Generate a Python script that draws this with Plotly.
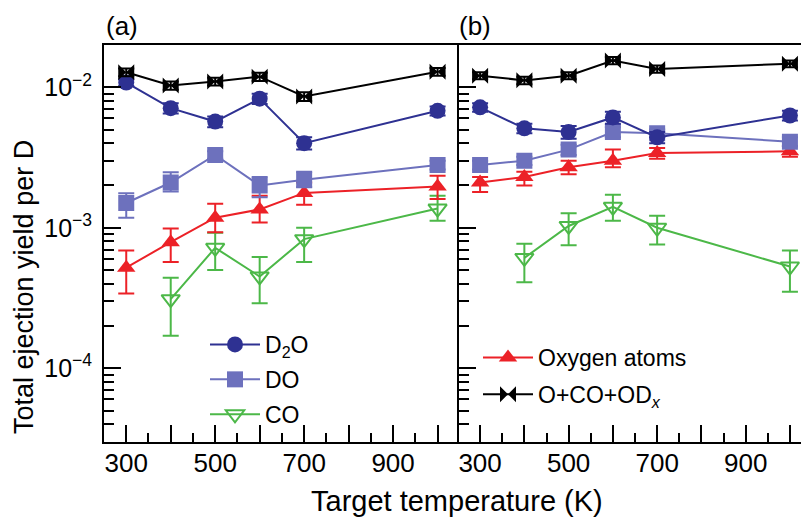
import plotly.graph_objects as go

W, H = 801, 517

# ---- data -------------------------------------------------------------
temps = [300, 400, 500, 600, 700, 1000]
temps_co = [400, 500, 600, 700, 1000]

# panel (a)
total_a = [0.0128, 0.0103, 0.0110, 0.0119, 0.0086, 0.0129]
total_a_up = [0.0008, 0.0007, 0.0007, 0.0008, 0.0006, 0.0008]
total_a_dn = [0.0008, 0.0007, 0.0007, 0.0008, 0.0006, 0.0008]
d2o_a = [0.0108, 0.0071, 0.0057, 0.0083, 0.0040, 0.0068]
d2o_a_up = [0.0006, 0.0006, 0.0005, 0.0007, 0.0004, 0.0005]
d2o_a_dn = [0.0006, 0.0006, 0.0005, 0.0007, 0.0004, 0.0005]
do_a = [0.0015, 0.0021, 0.0033, 0.0020, 0.0022, 0.0028]
do_a_up = [0.00026, 0.00038, 0.0002, 0.0003, 0.0003, 0.0002]
do_a_dn = [0.00032, 0.00029, 0.0002, 0.00035, 0.00026, 0.0002]
o_a = [0.00052, 0.00079, 0.00118, 0.00135, 0.00177, 0.00197]
o_a_up = [0.00017, 0.00020, 0.00030, 0.00034, 0.00033, 0.00038]
o_a_dn = [0.00018, 0.00022, 0.00025, 0.00026, 0.00031, 0.00037]
co_a = [0.00031, 0.00072, 0.00045, 0.00083, 0.00137]
co_a_up = [0.00013, 0.00020, 0.00017, 0.00017, 0.00032]
co_a_dn = [0.00014, 0.00022, 0.00016, 0.00026, 0.00025]

# panel (b)
total_b = [0.0121, 0.0112, 0.0121, 0.0155, 0.0135, 0.0147]
total_b_up = [0.0007, 0.0007, 0.0007, 0.0009, 0.0008, 0.0008]
total_b_dn = [0.0007, 0.0007, 0.0007, 0.0009, 0.0008, 0.0008]
d2o_b = [0.0072, 0.0051, 0.0048, 0.0061, 0.0044, 0.0063]
d2o_b_up = [0.0005, 0.0004, 0.0005, 0.0006, 0.0004, 0.0005]
d2o_b_dn = [0.0005, 0.0004, 0.0005, 0.0006, 0.0004, 0.0005]
do_b = [0.0028, 0.0030, 0.0036, 0.0048, 0.0047, 0.0041]
do_b_up = [0.0002, 0.0002, 0.0003, 0.0004, 0.0003, 0.0003]
do_b_dn = [0.0002, 0.0002, 0.0003, 0.0004, 0.0003, 0.0003]
o_b = [0.0021, 0.0023, 0.0027, 0.0030, 0.0034, 0.0035]
o_b_up = [0.0002, 0.0002, 0.0003, 0.0006, 0.0003, 0.0003]
o_b_dn = [0.0003, 0.0003, 0.0003, 0.0003, 0.0003, 0.0003]
co_b = [0.00061, 0.00103, 0.00141, 0.00100, 0.00053]
co_b_up = [0.00016, 0.00024, 0.00031, 0.00022, 0.00016]
co_b_dn = [0.00020, 0.00028, 0.00029, 0.00024, 0.00018]

y_ticks = [1e-4, 1e-3, 1e-2]
y_ticktext = ["10<sup>\u22124</sup>", "10<sup>\u22123</sup>", "10<sup>\u22122</sup>"]
x_ticks = [300, 400, 500, 600, 700, 800, 900, 1000]
x_ticktext = ["300", "", "500", "", "700", "", "900", ""]
x_minor = [350, 450, 550, 650, 750, 850, 950]

# ---- styles -----------------------------------------------------------
C_D2O = "#2e3192"
C_DO = "#6d71bd"
C_CO = "#4cb848"
C_O = "#ec2127"
C_TOT = "#000000"
FONT = "Liberation Sans, Arial, sans-serif"


def px_x(x):
    return x / W


def px_y(y):
    return 1 - y / H


def series(x, y, up, dn, color, symbol, size, name, xa, ya, legend, show, rank,
           open_marker=False):
    marker = dict(symbol=symbol, size=size, color=color,
                  line=dict(color=color, width=2 if open_marker else 0))
    return go.Scatter(
        x=x, y=y, mode="lines+markers", name=name,
        xaxis=xa, yaxis=ya, legend=legend, legendgroup=name + legend,
        legendrank=rank, showlegend=show,
        line=dict(color=color, width=2),
        marker=marker,
        error_y=dict(type="data", symmetric=False, array=up, arrayminus=dn,
                     color=color, thickness=2, width=8),
    )


fig = go.Figure()

# panel (a)
fig.add_trace(series(temps_co, co_a, co_a_up, co_a_dn, C_CO, "triangle-down-open", 16,
                     "CO", "x", "y", "legend", True, 3, open_marker=True))
fig.add_trace(series(temps, o_a, o_a_up, o_a_dn, C_O, "triangle-up", 16,
                     "Oxygen atoms", "x", "y", "legend2", False, 1))
fig.add_trace(series(temps, do_a, do_a_up, do_a_dn, C_DO, "square", 16,
                     "DO", "x", "y", "legend", True, 2))
fig.add_trace(series(temps, d2o_a, d2o_a_up, d2o_a_dn, C_D2O, "circle", 16,
                     "D<sub>2</sub>O", "x", "y", "legend", True, 1))
fig.add_trace(series(temps, total_a, total_a_up, total_a_dn, C_TOT, "bowtie", 16,
                     "O+CO+OD<sub><i>x</i></sub>", "x", "y", "legend2", False, 2))

# panel (b)
fig.add_trace(series(temps_co, co_b, co_b_up, co_b_dn, C_CO, "triangle-down-open", 16,
                     "CO", "x2", "y2", "legend", False, 3, open_marker=True))
fig.add_trace(series(temps, o_b, o_b_up, o_b_dn, C_O, "triangle-up", 16,
                     "Oxygen atoms", "x2", "y2", "legend2", True, 1))
fig.add_trace(series(temps, do_b, do_b_up, do_b_dn, C_DO, "square", 16,
                     "DO", "x2", "y2", "legend", False, 2))
fig.add_trace(series(temps, d2o_b, d2o_b_up, d2o_b_dn, C_D2O, "circle", 16,
                     "D<sub>2</sub>O", "x2", "y2", "legend", False, 1))
fig.add_trace(series(temps, total_b, total_b_up, total_b_dn, C_TOT, "bowtie", 16,
                     "O+CO+OD<sub><i>x</i></sub>", "x2", "y2", "legend2", True, 2))

y_dom = [px_y(441.7), px_y(45)]
y_range = [-4.5229, -1.699]

common_x = dict(
    tickmode="array", tickvals=x_ticks, ticktext=x_ticktext,
    ticks="inside", ticklen=17, tickwidth=1.5, tickcolor="black",
    minor=dict(tickmode="array", tickvals=x_minor, ticks="inside",
               ticklen=9, tickwidth=1.5, tickcolor="black"),
    showline=True, linecolor="black", linewidth=2, mirror=True,
    showgrid=False, zeroline=False,
    tickfont=dict(family=FONT, size=26, color="black"),
    ticklabelstandoff=-3,
)
common_y = dict(
    type="log", range=y_range, domain=y_dom,
    tickmode="array", tickvals=y_ticks,
    ticks="inside", ticklen=17, tickwidth=1.5, tickcolor="black",
    minor=dict(tickmode="array",
               tickvals=[m * 10.0 ** e for e in (-5, -4, -3, -2) for m in range(2, 10)],
               ticks="inside", ticklen=10, tickwidth=1.5, tickcolor="black"),
    showline=True, linecolor="black", linewidth=2,
    showgrid=False, zeroline=False,
    tickfont=dict(family=FONT, size=25, color="black"),
)

fig.update_layout(
    width=W, height=H,
    margin=dict(l=0, r=0, t=0, b=0),
    paper_bgcolor="white", plot_bgcolor="white",
    font=dict(family=FONT, color="black"),
    xaxis=dict(common_x, domain=[px_x(104), px_x(456.7)], range=[250, 1043],
               anchor="y"),
    xaxis2=dict(common_x, domain=[px_x(459.3), 1.0], range=[253, 1025],
                anchor="y2"),
    yaxis=dict(common_y, anchor="x", mirror=True, ticktext=y_ticktext,
               ticklabelstandoff=5),
    yaxis2=dict(common_y, anchor="x2", mirror=False, showticklabels=False),
    legend=dict(x=px_x(205), y=px_y(323), xanchor="left", yanchor="top",
                bgcolor="rgba(0,0,0,0)", itemwidth=50, tracegroupgap=2,
                font=dict(family=FONT, size=23, color="black"),
                traceorder="grouped"),
    legend2=dict(x=px_x(478), y=px_y(336), xanchor="left", yanchor="top",
                 bgcolor="rgba(0,0,0,0)", itemwidth=50, tracegroupgap=4,
                 font=dict(family=FONT, size=23, color="black"),
                 traceorder="grouped"),
    showlegend=True,
)

# panel captions and axis titles
fig.add_annotation(x=px_x(104), y=px_y(26), xref="paper", yref="paper",
                   text="(a)", showarrow=False, xanchor="left", yanchor="middle",
                   font=dict(family=FONT, size=26, color="black"))
fig.add_annotation(x=px_x(457), y=px_y(26), xref="paper", yref="paper",
                   text="(b)", showarrow=False, xanchor="left", yanchor="middle",
                   font=dict(family=FONT, size=26, color="black"))
fig.add_annotation(x=px_x(457), y=px_y(501), xref="paper", yref="paper",
                   text="Target temperature (K)", showarrow=False,
                   xanchor="center", yanchor="middle",
                   font=dict(family=FONT, size=29, color="black"))
fig.add_annotation(x=px_x(24), y=px_y(287), xref="paper", yref="paper",
                   text="Total ejection yield per D", showarrow=False, textangle=-90,
                   xanchor="center", yanchor="middle",
                   font=dict(family=FONT, size=27, color="black"))

fig.write_html("out.html")
